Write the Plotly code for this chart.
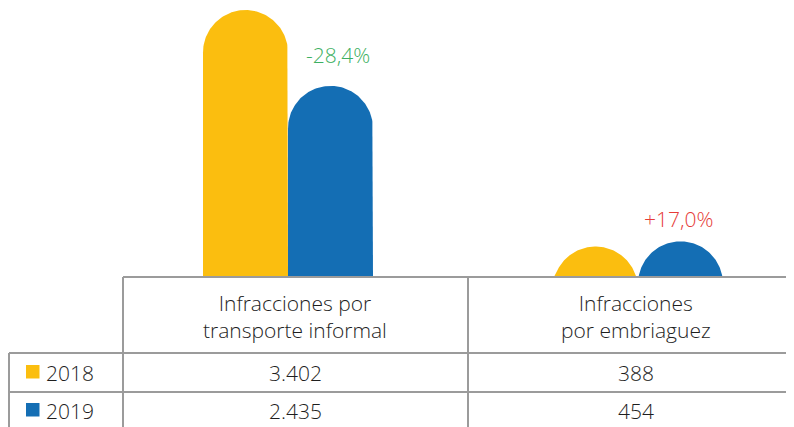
import numpy as np
import plotly.graph_objects as go

# ---- data ----
categories = ["Infracciones por<br>transporte informal", "Infracciones<br>por embriaguez"]
years = ["2018", "2019"]
values_2018 = [3402, 388]
values_2019 = [2435, 454]
value_labels_2018 = ["3.402", "388"]
value_labels_2019 = ["2.435", "454"]
change_labels = ["-28,4%", "+17,0%"]

colors = ["#FBBE0F", "#146EB4"]
change_colors = ["#3DB062", "#E63B37"]

W, H = 794, 427
OFF = 8            # the page body margin shifts the figure by 8 px
BASE = 277 - OFF   # figure pixel row of the bar baseline
FONT = "Open Sans"

def py(p):
    """reference pixel row -> paper y"""
    return (BASE - (p - OFF)) / BASE

def px(p):
    """reference pixel column -> paper x"""
    return (p - OFF) / W

# scales (data units per pixel)
PX_PER_CAT = 350.0
ymax = max(values_2018) * BASE / 267.0
ky = ymax / BASE
kx = 1.0 / PX_PER_CAT
x0 = -(288 - OFF) / PX_PER_CAT
x1 = x0 + W / PX_PER_CAT

bar_px = 85.0
bw = bar_px * kx
r_px = bar_px / 2

def rounded_bar(cx, v):
    """outline of a bar with a semicircular top, clipped at the baseline"""
    rx, ry = r_px * kx, r_px * ky
    theta = np.linspace(0, np.pi, 90)
    ax = cx + rx * np.cos(theta)
    ay = (v - ry) + ry * np.sin(theta)
    ay = np.maximum(ay, 0)
    xs = [cx + bw / 2] + list(ax) + [cx - bw / 2]
    ys = [0] + list(ay) + [0]
    return xs, ys

fig = go.Figure()
for s, (name, vals, col) in enumerate([(years[0], values_2018, colors[0]),
                                       (years[1], values_2019, colors[1])]):
    for i, v in enumerate(vals):
        cx = i + (s - 0.5) * bw
        xs, ys = rounded_bar(cx, v)
        fig.add_trace(go.Scatter(
            x=xs, y=ys, fill="toself", mode="lines", fillcolor=col,
            line=dict(width=0, color=col), name=name, hoverinfo="skip",
        ))

shapes = []
line = dict(color="#9B9B9B", width=2)
RIGHT = W + 20
BOTTOM = H + 20
shapes.append(dict(type="line", xref="paper", yref="paper", x0=px(123), x1=px(RIGHT), y0=py(277), y1=py(277), line=line))
shapes.append(dict(type="line", xref="paper", yref="paper", x0=px(9), x1=px(RIGHT), y0=py(353), y1=py(353), line=line))
shapes.append(dict(type="line", xref="paper", yref="paper", x0=px(9), x1=px(RIGHT), y0=py(392), y1=py(392), line=line))
shapes.append(dict(type="line", xref="paper", yref="paper", x0=px(123), x1=px(123), y0=py(277), y1=py(BOTTOM), line=line))
shapes.append(dict(type="line", xref="paper", yref="paper", x0=px(468), x1=px(468), y0=py(277), y1=py(BOTTOM), line=line))
shapes.append(dict(type="line", xref="paper", yref="paper", x0=px(9), x1=px(9), y0=py(353), y1=py(BOTTOM), line=line))
for i, col in enumerate(colors):
    top = 365 + i * 38
    shapes.append(dict(type="rect", xref="paper", yref="paper", x0=px(26), x1=px(39.5),
                       y0=py(top), y1=py(top + 13.5), fillcolor=col, line=dict(width=0)))

ann = []
txt = dict(family=FONT, size=21, color="#1E1E1E", weight=300)
col_centers = [295, 636]
for i, c in enumerate(categories):
    ann.append(dict(text=c, xref="paper", yref="paper", x=px(col_centers[i]), y=py(316.5),
                    xanchor="center", yanchor="middle", showarrow=False, font=txt))
    ann.append(dict(text=value_labels_2018[i], xref="paper", yref="paper", x=px(col_centers[i]), y=py(373),
                    xanchor="center", yanchor="middle", showarrow=False, font=txt))
    ann.append(dict(text=value_labels_2019[i], xref="paper", yref="paper", x=px(col_centers[i]), y=py(411),
                    xanchor="center", yanchor="middle", showarrow=False, font=txt))
for i, yname in enumerate(years):
    ann.append(dict(text=yname, xref="paper", yref="paper", x=px(44), y=py(373 + i * 38),
                    xanchor="left", yanchor="middle", showarrow=False, font=txt))
ann.append(dict(text=change_labels[0], x=0, y=values_2018[0], xref="x", yref="y",
                xshift=50, yshift=-45, showarrow=False, xanchor="center", yanchor="middle",
                font=dict(family=FONT, size=21, color=change_colors[0], weight=300)))
ann.append(dict(text=change_labels[1], x=1, y=values_2019[1], xref="x", yref="y",
                xshift=40, yshift=22, showarrow=False, xanchor="center", yanchor="middle",
                font=dict(family=FONT, size=21, color=change_colors[1], weight=300)))

fig.update_layout(
    width=W, height=H,
    margin=dict(l=0, r=0, t=0, b=H - BASE),
    paper_bgcolor="white", plot_bgcolor="white",
    showlegend=False,
    xaxis=dict(visible=False, range=[x0, x1]),
    yaxis=dict(visible=False, range=[0, ymax]),
    shapes=shapes, annotations=ann,
)
fig.write_html("out.html", config={"displayModeBar": False})
